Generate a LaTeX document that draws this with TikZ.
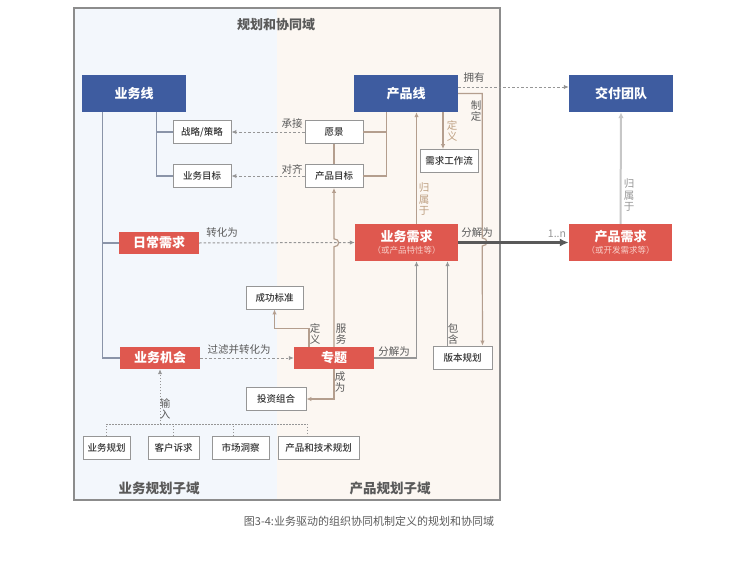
\documentclass[tikz,border=0pt]{standalone}
\usepackage{fontspec}
\setmainfont{Noto Sans CJK SC}
\newfontfamily\medfont{Noto Sans CJK SC Medium}
\usetikzlibrary{arrows.meta}

\definecolor{lineblue}{RGB}{62,92,160}
\definecolor{reqred}{RGB}{223,88,79}
\definecolor{subpink}{RGB}{248,206,200}
\definecolor{bgblue}{RGB}{243,247,252}
\definecolor{bgpeach}{RGB}{252,247,242}
\definecolor{framegray}{RGB}{140,140,140}
\definecolor{boxgray}{RGB}{150,150,150}
\definecolor{treeblue}{RGB}{138,148,168}
\definecolor{treebrown}{RGB}{180,158,142}
\definecolor{arrgray}{RGB}{150,150,150}
\definecolor{taggray}{RGB}{90,90,90}
\definecolor{tagbrown}{RGB}{190,160,130}

\begin{document}
\begin{tikzpicture}[
	x=1pt, y=-1pt,
	bluebox/.style={
		fill=lineblue, text=white,
		minimum width=104pt, minimum height=37pt,
		font=\fontsize{13}{15}\selectfont\bfseries, inner sep=0pt
	},
	redbox/.style={
		fill=reqred, text=white,
		minimum width=80pt, minimum height=22pt,
		font=\fontsize{13}{15}\selectfont\bfseries, inner sep=0pt
	},
	reqbox/.style={
		fill=reqred, text=white,
		minimum width=103pt, minimum height=37pt, align=center,
		font=\fontsize{13}{15}\selectfont\bfseries, inner sep=0pt
	},
	whitebox/.style={
		draw=boxgray, fill=white, line width=0.9pt,
		minimum width=58pt, minimum height=23pt, text=black!80,
		font=\fontsize{9.5}{11}\selectfont\medfont, inner sep=0pt
	},
	tag/.style={text=taggray, font=\fontsize{10.5}{11.5}\selectfont, inner sep=0pt, align=center},
	bline/.style={draw=treeblue, line width=1.2pt},
	brn/.style={draw=treebrown, line width=1.2pt},
	gry/.style={draw=arrgray, line width=1.2pt},
	dsh/.style={draw=arrgray, line width=1pt, dash pattern=on 2.5pt off 2pt},
	dots/.style={draw=arrgray, line width=1pt, dash pattern=on 1.5pt off 1.5pt},
	>={Latex[length=5pt,width=4.5pt]},
	]
	\useasboundingbox (0,0) rectangle (737,562);
	
	% the two sub-domains
	\fill[bgblue]  (74,8)  rectangle (277,500);
	\fill[bgpeach] (277,8) rectangle (500,500);
	\draw[framegray, line width=2pt] (74,8) rectangle (500,500);
	\node[text=taggray, font=\fontsize{13}{15}\selectfont\bfseries] (title) at (276,25) {规划和协同域};
	\node[text=taggray, font=\fontsize{13.5}{15}\selectfont\bfseries] (bizdom) at (159,488) {业务规划子域};
	\node[text=taggray, font=\fontsize{13.5}{15}\selectfont\bfseries] (proddom) at (390,488) {产品规划子域};
	
	\node[bluebox] (bizline)  at (134,93.5) {业务线};
	\node[bluebox] (prodline) at (406,93.5) {产品线};
	\node[bluebox] (team)     at (621,93.5) {交付团队};
	
	\node[whitebox] (strategy) at (202,132) {战略/策略};
	\node[whitebox] (bizgoal)  at (202,176) {业务目标};
	\node[whitebox] (vision)   at (334,132) {愿景};
	\node[whitebox] (prodgoal) at (334,176) {产品目标};
	\node[whitebox] (workflow) at (449,161) {需求工作流};
	
	\node[redbox] (daily) at (159,243) {日常需求};
	\node[reqbox] (bizreq) at (406.5,242.5) {业务需求\\[-3pt]{\fontsize{8.5}{10}\selectfont\mdseries\color{subpink}（或产品特性等）}};
	\node[reqbox] (prodreq) at (620.5,242.5) {产品需求\\[-3pt]{\fontsize{8.5}{10}\selectfont\mdseries\color{subpink}（或开发需求等）}};
	
	\node[whitebox, minimum width=57pt] (success) at (274.5,297.5) {成功标准};
	\node[redbox] (chance) at (160,358) {业务机会};
	\node[redbox] (topic)  at (334,358) {专题};
	\node[whitebox, minimum width=59pt] (release)   at (462.5,357.5) {版本规划};
	\node[whitebox, minimum width=60pt] (portfolio) at (276,399) {投资组合};
	
	\node[whitebox, minimum width=47pt] (bizplan)  at (106.5,448) {业务规划};
	\node[whitebox, minimum width=51pt] (custneed) at (173.5,448) {客户诉求};
	\node[whitebox, minimum width=57pt] (insight)  at (240.5,448) {市场洞察};
	\node[whitebox, minimum width=81pt] (techplan) at (318.5,448) {产品和技术规划};
	
	% business line tree
	\draw[bline] ([xshift=21pt]bizline.south west) |- (daily.west);
	\draw[bline] ([xshift=21pt]bizline.south west) |- (chance.west);
	\draw[bline] ([xshift=-30pt]bizline.south east) |- (strategy.west);
	\draw[bline] ([xshift=-30pt]bizline.south east) |- (bizgoal.west);
	
	% product line tree
	\draw[brn] ([xshift=33pt]prodline.south west) |- (vision.east);
	\draw[brn] ([xshift=33pt]prodline.south west) |- (prodgoal.east);
	\draw[brn] (vision.south) -- (prodgoal.north);
	\draw[brn, ->] ([xshift=-6pt]workflow.north |- prodline.south) -- ([xshift=-6pt]workflow.north);
	\draw[brn, ->] (prodline.east) -- ++(24,0) -- ++(0,144.5)
		to[out=0, in=0, looseness=2] ++(0,8) -- ([xshift=20pt]release.north);
	\draw[brn, ->] ([xshift=10pt]bizreq.north) -- ([xshift=10pt]bizreq.north |- prodline.south);
	\draw[dsh, ->] ([yshift=6.5pt]prodline.east) -- ([yshift=6.5pt]prodline.east -| team.west);
	\draw[dsh, ->] (vision.west) -- (strategy.east);
	\draw[dsh, ->] (prodgoal.west) -- (bizgoal.east);
	
	% topic
	\draw[brn, ->] (topic.north) -- ++(0,-100)
		to[out=0, in=0, looseness=2] ++(0,-8) -- (prodgoal.south);
	\draw[brn, ->] ([xshift=-25pt]topic.north) -- ++(0,-18) -| (success.south);
	\draw[brn, ->] (topic.south) |- (portfolio.east);
	\draw[gry, ->] (topic.east) -| ([xshift=10pt]bizreq.south);
	\draw[gry, ->] ([xshift=-15pt]release.north) -- ([xshift=-15pt]release.north |- bizreq.south);
	\draw[dsh, ->] (daily.east) -- (bizreq.west);
	\draw[dsh, ->] (chance.east) -- (topic.west);
	
	\draw[draw=black!65, line width=2.2pt, -{Latex[length=9pt,width=8pt]}] (bizreq.east) -- (prodreq.west);
	\draw[draw=black!22, line width=2pt, -{Latex[length=6pt,width=5.5pt]}] (prodreq.north) -- (team.south);
	
	% inputs
	\coordinate (inhub) at (160,424);
	\draw[dots] (bizplan.north) |- (inhub);
	\draw[dots] (inhub) -| ([xshift=-11pt]techplan.north);
	\draw[dots] (custneed.north) -- (custneed.north |- inhub);
	\draw[dots] ([xshift=-7.5pt]insight.north) -- ([xshift=-7.5pt]insight.north |- inhub);
	\draw[dots, ->] (inhub) -- (chance.south);
	
	% labels
	\node[tag] (ladopt)   at (292,124) {承接};
	\node[tag] (lalign)   at (292,169) {对齐};
	\node[tag] (lown)     at (474,78)  {拥有};
	\node[tag] (lset)     at (476,111) {制\\定};
	\node[tag, text=tagbrown] (ldefwf) at (452,131) {定\\义};
	\node[tag, text=tagbrown] (lbelong) at (424,199) {归\\属\\于};
	\node[tag, text=arrgray] (lbelong2) at (629,195) {归\\属\\于};
	\node[tag] (lconv)    at (222,233) {转化为};
	\node[tag] (lsplit)   at (477,233) {分解为};
	\node[tag, text=arrgray] (lmult) at (557,234) {1..n};
	\node[tag] (ldefok)   at (315,334) {定\\义};
	\node[tag] (lserve)   at (341,334) {服\\务};
	\node[tag] (lfilter)  at (239,350) {过滤并转化为};
	\node[tag] (lsplit2)  at (394,352) {分解为};
	\node[tag] (lhold)    at (453,334) {包\\含};
	\node[tag] (lbecome)  at (340,382) {成\\为};
	\node[tag] (linput)   at (165,409) {输\\入};
	
	\node[text=taggray, font=\fontsize{11}{13}\selectfont] (caption) at (369,521) {图3-4:业务驱动的组织协同机制定义的规划和协同域};
	
\end{tikzpicture}
\end{document}
